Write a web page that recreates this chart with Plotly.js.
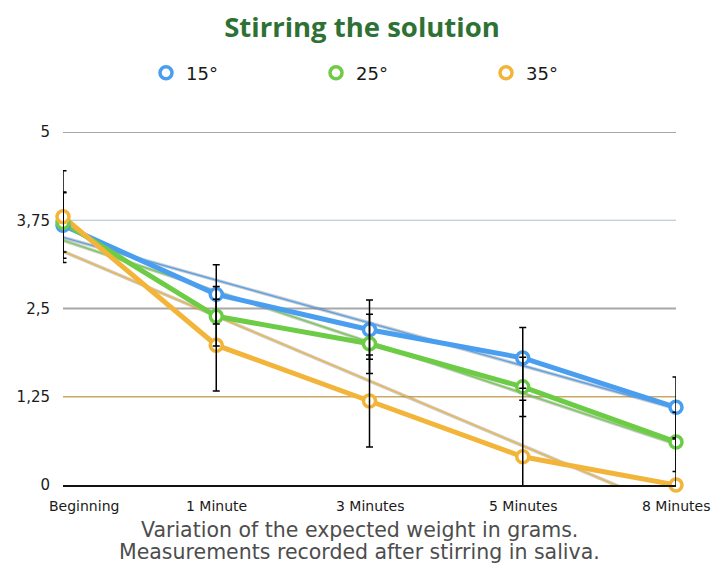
<!DOCTYPE html>
<html>
<head>
<meta charset="utf-8">
<script src="https://cdn.plot.ly/plotly-3.0.1.min.js"></script>
<style>html,body{margin:0;padding:0;background:#fff;}#chart{width:724px;height:567px;}</style>
</head>
<body>
<div id="chart"></div>
<script>
// ---- data ----
const categories = ['Beginning', '1 Minute', '3 Minutes', '5 Minutes', '8 Minutes'];
const seriesNames = ['15°', '25°', '35°'];
const values15 = [3.68, 2.70, 2.20, 1.80, 1.10];
const values25 = [3.72, 2.39, 2.00, 1.39, 0.61];
const values35 = [3.80, 1.98, 1.19, 0.40, 0.00];
const err15 = [0.47, 0.42, 0.42, 0.43, 0.43];
const err25 = [0.42, 0.42, 0.42, 0.42, 0.42];
const err35 = [0.65, 0.65, 0.65, 0.80, 0.65];
const yTickVals = [0, 1.25, 2.5, 3.75, 5];
const yTickText = ['0', '1,25', '2,5', '3,75', '5'];
const titleText = 'Stirring the solution';
const noteLines = ['Variation of the expected weight in grams.', 'Measurements recorded after stirring in saliva.'];

// ---- styles ----
const colors = ['#4a9ef0', '#6dcc45', '#f2b53a'];
const gridStyles = [null, {color: '#c9a963', width: 1.6}, {color: '#a8a8a8', width: 1.8},
                    {color: '#b4bec8', width: 1.1}, {color: '#a8a8a8', width: 1.8}];
const allValues = [values15, values25, values35];
const allErr = [err15, err25, err35];

function linfit(ys) {
  const n = ys.length;
  const xs = ys.map((_, i) => i);
  const mx = xs.reduce((a, b) => a + b, 0) / n;
  const my = ys.reduce((a, b) => a + b, 0) / n;
  let sxy = 0, sxx = 0;
  for (let i = 0; i < n; i++) { sxy += (xs[i] - mx) * (ys[i] - my); sxx += (xs[i] - mx) ** 2; }
  const m = sxy / sxx, b = my - m * mx;
  return [b, b + m * (n - 1)];
}

const traces = [];
// trendlines
allValues.forEach((vals, i) => {
  const ends = linfit(vals);
  const xEnds = [categories[0], categories[categories.length - 1]];
  traces.push({x: xEnds, y: ends, mode: 'lines', showlegend: false, hoverinfo: 'skip',
    line: {color: 'rgba(110,110,110,0.35)', width: 3.5}});
  traces.push({x: xEnds, y: ends, mode: 'lines', showlegend: false, hoverinfo: 'skip',
    line: {color: colors[i], width: 1.4}, opacity: 0.9});
});
// main lines
allValues.forEach((vals, i) => {
  traces.push({x: categories, y: vals, mode: 'lines', showlegend: false,
    line: {color: colors[i], width: 5}, cliponaxis: false});
});
// markers (legend)
allValues.forEach((vals, i) => {
  traces.push({x: categories, y: vals, mode: 'markers', name: seriesNames[i], cliponaxis: false,
    marker: {symbol: 'circle', size: 12, color: '#ffffff', line: {color: colors[i], width: 3.5}}});
});
// error bars
allValues.forEach((vals, i) => {
  traces.push({x: categories, y: vals, mode: 'markers', showlegend: false, hoverinfo: 'skip',
    marker: {size: 1, color: 'rgba(0,0,0,0)'},
    error_y: {type: 'data', array: allErr[i], visible: true, color: '#000000', thickness: 1.5, width: 3.5}});
});

const labelFont = {family: 'DejaVu Sans, sans-serif', size: 14, color: '#1a1a1a'};
const annotations = categories.map((c, i) => ({
  x: c, xref: 'x', y: 0, yref: 'y', yshift: -21, xshift: i === 0 ? 21 : 0,
  text: c, showarrow: false, xanchor: 'center', yanchor: 'middle', font: labelFont
}));
noteLines.forEach((t, j) => annotations.push({
  xref: 'paper', yref: 'paper', x: (359 - 63) / 613, y: 0, yshift: -45 - 22 * j,
  text: t, showarrow: false, xanchor: 'center', yanchor: 'middle',
  font: {family: 'DejaVu Sans, sans-serif', size: 20.5, color: '#4d4d4d'}
}));

const shapes = [];
yTickVals.forEach((v, i) => {
  if (!gridStyles[i]) return;
  shapes.push({type: 'line', xref: 'paper', yref: 'y', x0: 0, x1: 1, y0: v, y1: v,
    line: gridStyles[i], layer: 'below'});
});

const layout = {
  width: 724, height: 567,
  margin: {l: 63, r: 48, t: 132, b: 82},
  paper_bgcolor: '#ffffff', plot_bgcolor: '#ffffff',
  title: {text: titleText, x: 0.5, xref: 'container', xanchor: 'center',
    y: 1 - 27 / 567, yref: 'container', yanchor: 'middle',
    font: {family: 'Open Sans, sans-serif', size: 27.5, color: '#2e7134', weight: 'bold'}},
  showlegend: true,
  legend: {orientation: 'h', xref: 'container', x: 146 / 724, xanchor: 'left',
    yref: 'container', y: 1 - 73 / 567, yanchor: 'middle',
    entrywidth: 125, entrywidthmode: 'pixels',
    font: {family: 'DejaVu Sans, sans-serif', size: 18, color: '#1a1a1a'}},
  xaxis: {type: 'category', categoryorder: 'array', categoryarray: categories, range: [0, 4],
    showgrid: false, zeroline: false,
    showline: true, linecolor: '#111111', linewidth: 1.5, showticklabels: false, ticks: ''},
  yaxis: {range: [0, 5], tickvals: yTickVals, ticktext: yTickText, showgrid: false,
    zeroline: false, showline: false, ticks: '',
    ticklabelstandoff: 12,
    tickfont: {family: 'DejaVu Sans, sans-serif', size: 15, color: '#1a1a1a'}},
  shapes: shapes,
  annotations: annotations
};

Plotly.newPlot('chart', traces, layout, {displayModeBar: false, staticPlot: true});
</script>
</body>
</html>
